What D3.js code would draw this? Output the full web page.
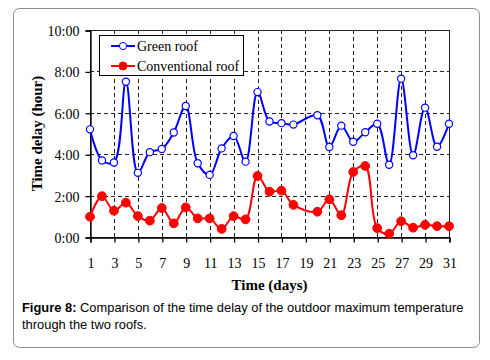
<!DOCTYPE html>
<html lang="en">
<head>
    <meta charset="UTF-8">
    <title>Time delay of the two roofs</title>
    <script src="https://d3js.org/d3.v7.min.js"></script>
    <style>
        body { margin: 0; background: #fff; }
    </style>
</head>
<body>
    <svg width="490" height="360"></svg>

    <script>
        // data (hours of delay, day 19 has no reading)
        const days = [1, 2, 3, 4, 5, 6, 7, 8, 9, 10, 11, 12, 13, 14, 15, 16, 17, 18,
                      20, 21, 22, 23, 24, 25, 26, 27, 28, 29, 30, 31];
        const greenRoof = [5.2, 3.7, 3.6, 7.5, 3.1, 4.1, 4.25, 5.05, 6.33, 3.56, 3.0, 4.28, 4.88, 3.64,
                           7.0, 5.58, 5.5, 5.43, 5.88, 4.35, 5.38, 4.6, 5.06, 5.47, 3.49, 7.65, 3.95, 6.25, 4.36, 5.47];
        const convRoof = [0.98, 1.97, 1.27, 1.66, 1.01, 0.79, 1.4, 0.66, 1.43, 0.9, 0.9, 0.39, 1.01, 0.85,
                          2.95, 2.19, 2.24, 1.55, 1.22, 1.82, 1.05, 3.14, 3.43, 0.43, 0.16, 0.76, 0.45, 0.59, 0.52, 0.52];
        const xTicks = d3.range(1, 32, 2);
        const yTicks = [0, 2, 4, 6, 8, 10];

        const svg = d3.select('svg');
        const plot = {left: 90, right: 449, top: 30, bottom: 237};

        // outer frame of the figure
        svg.append('rect')
            .attr('x', 13.5).attr('y', 8.5)
            .attr('width', 466).attr('height', 339)
            .attr('rx', 6)
            .attr('fill', 'none')
            .attr('stroke', '#8c8c8c');

        const x = d3.scaleLinear().domain([1, 31]).range([plot.left, plot.right]);
        const y = d3.scaleLinear().domain([0, 10]).range([plot.bottom, plot.top]);

        const fmt = v => v + ':00';

        // dashed grid
        const grid = svg.append('g')
            .attr('stroke', '#222')
            .attr('stroke-dasharray', '4,3')
            .attr('stroke-width', 1);
        grid.selectAll('line.v')
            .data(xTicks.filter(d => d > 1 && d < 31))
            .join('line')
            .attr('x1', d => Math.round(x(d)) + 0.5).attr('x2', d => Math.round(x(d)) + 0.5)
            .attr('y1', plot.top).attr('y2', plot.bottom);
        grid.selectAll('line.h')
            .data(yTicks.filter(d => d > 0 && d < 10))
            .join('line')
            .attr('x1', plot.left).attr('x2', plot.right)
            .attr('y1', d => Math.round(y(d)) + 0.5).attr('y2', d => Math.round(y(d)) + 0.5);

        // plot frame
        svg.append('rect')
            .attr('x', plot.left + 0.5).attr('y', plot.top + 0.5)
            .attr('width', plot.right - plot.left).attr('height', plot.bottom - plot.top)
            .attr('fill', 'none').attr('stroke', '#222');

        // axes
        const xAxis = svg.append('g')
            .attr('transform', `translate(0.5,${plot.bottom + 0.5})`)
            .call(d3.axisBottom(x).tickValues(xTicks).tickSize(5).tickPadding(16));
        const yAxis = svg.append('g')
            .attr('transform', `translate(${plot.left + 0.5},0.5)`)
            .call(d3.axisLeft(y).tickValues(yTicks).tickFormat(fmt).tickSize(5).tickPadding(6));
        [xAxis, yAxis].forEach(a => {
            a.select('.domain').attr('stroke', '#000').attr('stroke-width', 1.3);
            a.selectAll('.tick line').attr('stroke', '#000').attr('stroke-width', 1.3);
            a.selectAll('text')
                .attr('font-family', '"Liberation Serif", "Times New Roman", serif')
                .attr('font-size', 14)
                .attr('fill', '#000');
        });
        yAxis.selectAll('text').attr('dy', '0.35em');

        // series
        const line = d3.line()
            .x(d => x(d[0]))
            .y(d => y(d[1]))
            .curve(d3.curveCatmullRom.alpha(0.5));

        const series = [
            {name: 'Green roof', values: greenRoof, color: '#0000ff', open: true},
            {name: 'Conventional roof', values: convRoof, color: '#ff0000', open: false}
        ];

        series.forEach(s => {
            const pts = days.map((d, i) => [d, s.values[i]]);
            svg.append('path')
                .datum(pts)
                .attr('d', line)
                .attr('fill', 'none')
                .attr('stroke', s.color)
                .attr('stroke-width', 2);
            svg.append('g').selectAll('circle')
                .data(pts)
                .join('circle')
                .attr('cx', d => x(d[0]))
                .attr('cy', d => y(d[1]))
                .attr('r', s.open ? 3.6 : 4.4)
                .attr('fill', s.open ? '#fff' : s.color)
                .attr('stroke', s.color)
                .attr('stroke-width', s.open ? 1.2 : 1);
        });

        // legend
        const legend = svg.append('g').attr('transform', 'translate(99,35)');
        legend.append('rect')
            .attr('x', 0.5).attr('y', 0.5)
            .attr('width', 144).attr('height', 40)
            .attr('fill', '#fff').attr('stroke', '#000');
        series.forEach((s, i) => {
            const ly = 11 + i * 20;
            legend.append('line')
                .attr('x1', 12).attr('x2', 36)
                .attr('y1', ly).attr('y2', ly)
                .attr('stroke', s.color).attr('stroke-width', 2);
            legend.append('circle')
                .attr('cx', 24).attr('cy', ly)
                .attr('r', s.open ? 3.6 : 4)
                .attr('fill', s.open ? '#fff' : s.color)
                .attr('stroke', s.color);
            legend.append('text')
                .attr('x', 38).attr('y', ly + 5)
                .attr('font-family', '"Liberation Serif", "Times New Roman", serif')
                .attr('font-size', 14)
                .text(s.name);
        });

        // axis titles
        svg.append('text')
            .attr('transform', `translate(42,${(plot.top + plot.bottom) / 2}) rotate(-90)`)
            .attr('text-anchor', 'middle')
            .attr('font-family', '"Liberation Serif", "Times New Roman", serif')
            .attr('font-size', 15)
            .attr('font-weight', 'bold')
            .text('Time delay (hour)');
        svg.append('text')
            .attr('x', (plot.left + plot.right) / 2 + 0)
            .attr('y', 290)
            .attr('text-anchor', 'middle')
            .attr('font-family', '"Liberation Serif", "Times New Roman", serif')
            .attr('font-size', 15)
            .attr('font-weight', 'bold')
            .text('Time (days)');

        // caption
        const cap = svg.append('text')
            .attr('font-family', '"Liberation Sans", Arial, sans-serif')
            .attr('font-size', 12.9)
            .attr('fill', '#000');
        const l1 = cap.append('tspan').attr('x', 22).attr('y', 312);
        l1.append('tspan').attr('font-weight', 'bold').text('Figure 8:');
        l1.append('tspan').text(' Comparison of the time delay of the outdoor maximum temperature');
        cap.append('tspan').attr('x', 22).attr('y', 329).text('through the two roofs.');
    </script>
</body>
</html>
